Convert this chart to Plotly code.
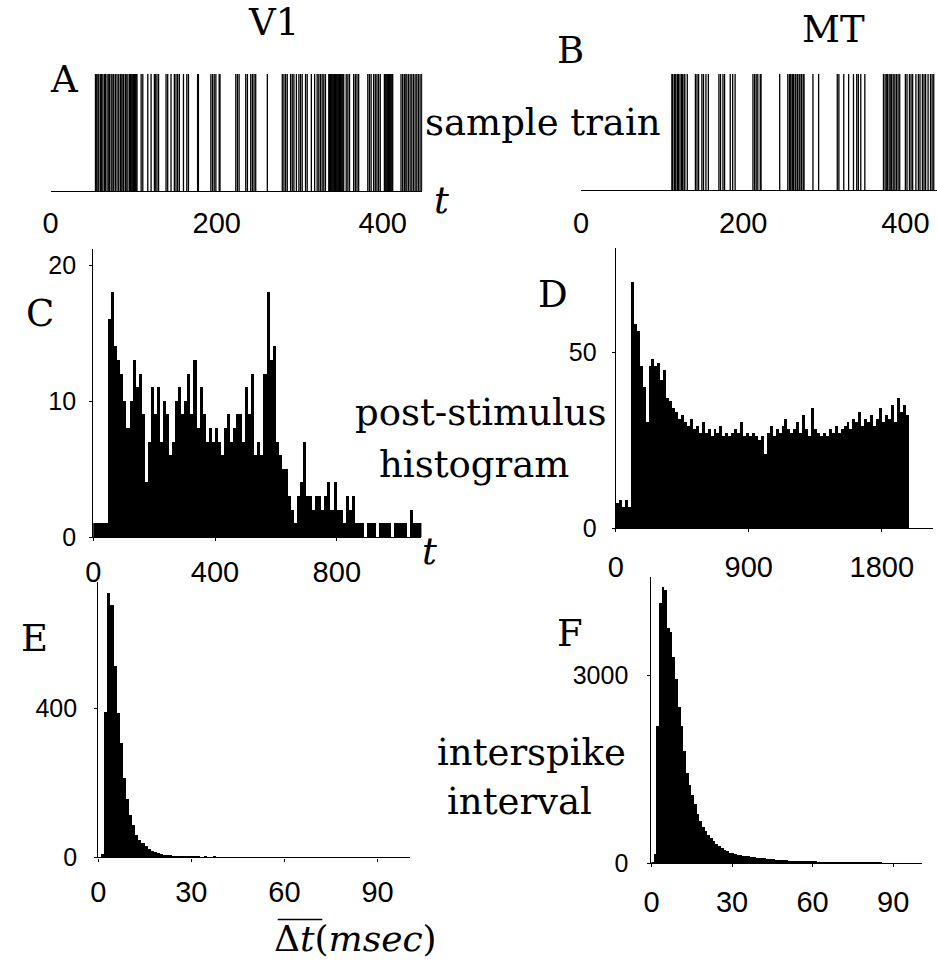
import plotly.graph_objects as go

W, H = 937, 972

# ---------------- data ----------------
v1_spikes = [54, 55.5, 57, 58, 60, 61.5, 63, 65, 66, 68, 70, 71, 73, 75, 76, 78, 80, 82, 84, 85, 87, 88, 90, 91,
             93, 95, 96, 97, 98, 99, 100, 101, 102, 103, 104, 109, 111, 117, 121, 125, 126, 128, 130, 139, 141,
             145, 149, 151, 153, 155, 160, 164, 166, 177, 178, 193, 195, 197, 199, 203, 204, 223, 225, 227, 235,
             237, 241, 243, 245, 247, 261, 279, 281, 283, 285, 289, 291, 293, 296, 299, 301, 303, 307, 309, 314,
             318, 321, 323, 325, 327, 329, 331, 335, 336, 337, 338, 339, 340, 341, 342, 343, 344, 345, 346, 347,
             348, 349, 350, 351, 352, 353, 356, 358, 360, 365, 367, 369, 371, 382, 384, 386, 389, 391, 393, 395,
             397, 402, 403, 404, 405, 406, 407, 408, 409, 410, 411, 412, 422, 424, 426, 427, 429, 431, 433, 435,
             437, 439, 441, 443, 445, 447]
mt_spikes = [112, 113, 115, 116, 117, 119, 120, 122, 124, 125, 127, 128, 131, 141, 143, 145, 149, 151, 154, 157,
             170, 172, 175, 177, 184, 187, 190, 212, 214, 216, 218, 221, 222, 245, 255, 257, 258, 259, 261, 262,
             264, 265, 267, 269, 270, 272, 274, 275, 286, 293, 316, 318, 324, 330, 336, 340, 342, 345, 350, 373,
             375, 377, 378, 380, 382, 383, 385, 387, 389, 391, 393, 400, 402, 405, 407, 409, 413, 416, 418, 421,
             423, 425, 428, 431, 433, 435]

# PSTH V1: 10 ms bins starting at 0
psth_v1_bin = 10
psth_v1 = [1, 1, 1, 1, 1, 16, 18, 14, 13, 12,
           10, 8, 10, 13, 11, 12, 9, 4, 7, 11,
           9, 11, 7, 10, 9, 6, 7, 10, 11, 9,
           10, 12, 9, 13, 8, 11, 9, 7, 8, 7,
           8, 7, 6, 8, 9, 7, 8, 9, 9, 7,
           11, 9, 12, 6, 7, 6, 12, 18, 13, 14,
           7, 6, 5, 5, 3, 2, 1, 3, 4, 7,
           3, 3, 2, 3, 3, 2, 3, 4, 2, 4,
           2, 2, 1, 3, 2, 3, 1, 1, 1, 0,
           1, 1, 1, 0, 1, 1, 1, 1, 0, 1,
           1, 1, 1, 0, 2, 1, 1, 1]
# PSTH MT: 20 ms bins starting at 0
psth_mt_bin = 20
psth_mt = [7, 8, 6, 8, 6, 70, 58, 56, 46, 40,
           30, 46, 48, 46, 47, 42, 45, 37, 36, 34,
           33, 31, 32, 30, 29, 31, 28, 29, 27, 30,
           27, 28, 26, 28, 27, 29, 26, 27, 26, 27,
           28, 27, 30, 26, 27, 26, 27, 26, 25, 26,
           21, 27, 29, 26, 28, 27, 29, 31, 28, 27,
           28, 30, 27, 32, 28, 26, 34, 28, 27, 26,
           27, 26, 28, 27, 29, 27, 28, 29, 30, 28,
           31, 30, 33, 29, 31, 30, 32, 29, 31, 34,
           30, 32, 31, 35, 30, 37, 33, 35, 32]
# ISI histograms: 1 ms bins
isi_v1 = [0, 12, 393, 712, 680, 516, 389, 309, 214, 159,
          115, 88, 62, 49, 40, 31, 25, 18, 15, 13,
          11, 9, 8, 7, 6, 5, 5, 4, 4, 3,
          4, 3, 3, 2, 3, 2, 2, 3, 2, 2,
          2, 1, 2, 1, 2, 1, 1, 1, 0, 0,
          2, 1, 2, 1, 1, 2, 1, 0, 1, 2,
          1, 1, 0, 1, 2, 1, 1, 1, 0, 1,
          1, 0, 1, 1, 2, 1, 0, 0, 2, 1,
          1, 1, 2, 1, 1, 1, 2, 1, 1, 1,
          1, 2, 1, 1, 1, 1, 1, 1, 1, 1]
isi_mt = [30, 150, 2200, 4150, 4410, 4360, 3760, 3700, 3300, 2950,
          2500, 2200, 1800, 1450, 1250, 1100, 950, 800, 680, 590,
          520, 460, 410, 360, 320, 280, 250, 225, 200, 180,
          165, 155, 148, 140, 132, 125, 118, 112, 106, 100,
          96, 92, 88, 82, 77, 72, 68, 64, 60, 57,
          54, 52, 50, 48, 46, 45, 44, 43, 42, 41,
          40, 38, 36, 35, 33, 31, 30, 28, 27, 26,
          25, 24, 23, 22, 21, 20, 19, 18, 18, 17,
          16, 15, 15, 14, 13, 13, 12, 12, 11, 11,
          10, 10, 9, 9, 8, 8, 8, 7, 7, 7]

tick_a = [0, 200, 400]
tick_c_x = [0, 400, 800]
tick_c_y = [0, 10, 20]
tick_d_x = [0, 900, 1800]
tick_d_y = [0, 50]
tick_e_x = [0, 30, 60, 90]
tick_e_y = [0, 400]
tick_f_x = [0, 30, 60, 90]
tick_f_y = [0, 3000]

# ---------------- helpers ----------------
def xd(a, b):
    return [a / W, b / W]

def yd(top, bottom):
    return [1 - bottom / H, 1 - top / H]

SANS = "Liberation Sans"
SERIF = "DejaVu Serif"
XT = 29
YT = 25

fig = go.Figure()

def spike_trace(times, xa, ya):
    xs, ys = [], []
    for t in times:
        xs += [t, t, None]
        ys += [0, 1, None]
    return go.Scatter(x=xs, y=ys, mode="lines", line=dict(color="black", width=1.3),
                      xaxis=xa, yaxis=ya, hoverinfo="skip", showlegend=False)

def hist_trace(vals, binw, xa, ya):
    centers = [binw * (i + 0.5) for i in range(len(vals))]
    return go.Bar(x=centers, y=vals, width=binw, marker=dict(color="black", line=dict(width=0)),
                  xaxis=xa, yaxis=ya, showlegend=False)

fig.add_trace(spike_trace(v1_spikes, "x", "y"))
fig.add_trace(spike_trace(mt_spikes, "x2", "y2"))
fig.add_trace(hist_trace(psth_v1, psth_v1_bin, "x3", "y3"))
fig.add_trace(hist_trace(psth_mt, psth_mt_bin, "x4", "y4"))
fig.add_trace(hist_trace(isi_v1, 1, "x5", "y5"))
fig.add_trace(hist_trace(isi_mt, 1, "x6", "y6"))

def xaxis(dom, rng, tv, ticks="outside", standoff=8):
    return dict(domain=dom, range=rng, tickvals=tv, ticktext=[str(v) for v in tv],
                showline=True, linecolor="black", linewidth=1.2, ticks=ticks, ticklen=3,
                tickcolor="black", showgrid=False, zeroline=False,
                tickfont=dict(family=SANS, size=XT, color="black"), ticklabelstandoff=standoff,
                fixedrange=True)

def yaxis(dom, rng, tv, anchor, standoff=8, show=True):
    if not show:
        return dict(domain=dom, range=rng, visible=False, anchor=anchor, fixedrange=True)
    return dict(domain=dom, range=rng, tickvals=tv, ticktext=[str(v) for v in tv],
                showline=True, linecolor="black", linewidth=1.2, ticks="outside", ticklen=3,
                tickcolor="black", showgrid=False, zeroline=False, anchor=anchor,
                tickfont=dict(family=SANS, size=YT, color="black"), ticklabelstandoff=standoff,
                fixedrange=True)

layout = dict(
    width=W, height=H, margin=dict(l=0, r=0, t=0, b=0, pad=0),
    paper_bgcolor="white", plot_bgcolor="white", bargap=0, showlegend=False,
    xaxis=dict(xaxis(xd(43, 418), [0, 447.8], tick_a, ticks="", standoff=6), anchor="y"),
    yaxis=yaxis(yd(75, 194), [0, 1], [], "x", show=False),
    xaxis2=dict(xaxis(xd(578, 937), [0, 439], tick_a, ticks="", standoff=7), anchor="y2"),
    yaxis2=yaxis(yd(75, 193), [0, 1], [], "x2", show=False),
    xaxis3=dict(xaxis(xd(86, 417), [0, 1078], tick_c_x, standoff=6), anchor="y3"),
    yaxis3=yaxis(yd(253, 545), [0, 21.16], tick_c_y, "x3", standoff=8),
    xaxis4=dict(xaxis(xd(613, 933), [0, 2147], tick_d_x, standoff=10), anchor="y4"),
    yaxis4=yaxis(yd(252, 536), [0, 79.6], tick_d_y, "x4", standoff=10),
    xaxis5=dict(xaxis(xd(91, 405), [0, 100.3], tick_e_x, standoff=6), anchor="y5"),
    yaxis5=yaxis(yd(590, 870), [0, 742], tick_e_y, "x5", standoff=12),
    xaxis6=dict(xaxis(xd(649, 922), [0, 100.8], tick_f_x, standoff=10), anchor="y6"),
    yaxis6=yaxis(yd(585, 876), [0, 4570], tick_f_y, "x6", standoff=14),
)
fig.update_layout(**layout)

def ann(text, x, y, size=37, family=SERIF):
    fig.add_annotation(text=text, x=x / W, y=1 - y / H, xref="paper", yref="paper",
                       showarrow=False, xanchor="center", yanchor="middle",
                       font=dict(family=family, size=size, color="black"))

ann("V1", 268, 23)
ann("MT", 833, 30)
ann("A", 57, 81)
ann("B", 567, 51)
ann("C", 32, 318)
ann("D", 550, 299)
ann("E", 27, 648)
ann("F", 567, 643)
ann("sample train", 540, 124)
ann("post-stimulus", 477, 419)
ann("histogram", 470, 471)
ann("interspike", 528, 764)
ann("interval", 516, 813)
ann("<i>t</i>", 437, 203)
ann("<i>t</i>", 425, 560)
ann("Δ<i>t</i>(<i>msec</i>)", 350, 952, size=36)

fig.add_shape(type="line", xref="paper", yref="paper",
              x0=272 / W, x1=317 / W, y0=1 - 933 / H, y1=1 - 933 / H,
              line=dict(color="black", width=1.5))

fig.write_html("out.html")
